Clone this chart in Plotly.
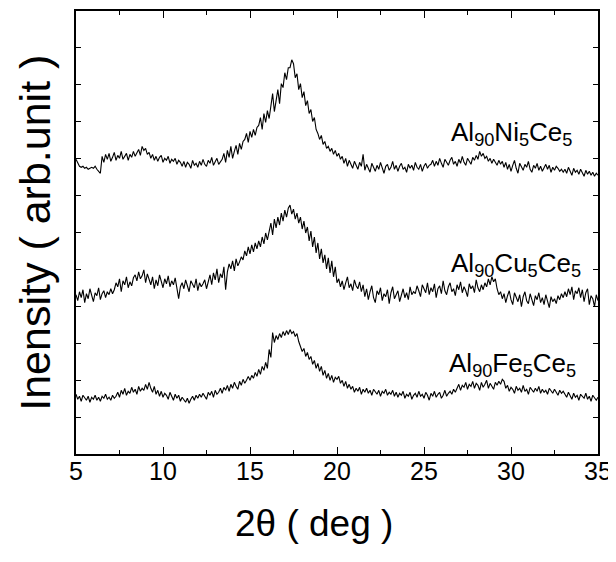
import plotly.graph_objects as go

# XRD scan grid: 2-theta from 5 to 35 deg, step 0.1 deg (301 points)
scan_start = 5.0
scan_step = 0.1
n_points = 301

# Intensities (arb. units)
ni5_counts = [
    296, 292, 289, 288, 289, 287, 288, 286, 287, 288, 287, 289, 286, 284,
    282,
    299, 293, 301, 296, 302, 294, 298, 303, 295, 300, 297, 304, 296, 299, 302, 295, 301, 298, 304, 299, 302, 306, 300,
    309, 305, 307, 301,
    303, 297, 301, 295, 299, 294, 298, 300, 293, 297, 295, 299, 292, 296, 294, 297, 291, 295, 293,
    289, 294, 288, 293, 291, 287, 295, 290, 292, 288, 294, 290, 296, 291, 289, 295, 292, 298, 290, 293, 297, 291, 294,
    296, 302, 293, 305, 298, 309, 297, 304, 310, 301, 312, 306, 314,
    316, 322, 313, 324, 318, 326, 320, 328,
    330, 338, 326, 342, 333, 345, 337,
    348, 362, 344, 358, 366, 352,
    372, 368, 383, 376, 388,
    388, 396, 392,
    378, 382, 366, 372,
    358, 364, 350, 355, 342,
    346, 334, 338, 326, 322,
    316, 320, 311, 314, 307,
    309, 304, 307, 301, 305, 299,
    302, 296, 299, 292, 297, 289, 295, 291, 287, 294, 290, 286, 293, 289, 301,
    285, 291, 287, 283, 292, 288, 284, 290, 286, 293,
    287, 282, 289, 291, 285, 288, 294, 286, 290, 284,
    289, 292, 286, 288, 283, 291, 287, 290, 285, 293,
    288, 286, 291, 284, 289, 292, 287, 290,
    291, 295, 289, 294, 290, 297, 292, 288, 296, 293,
    290, 295, 298, 291, 294, 289, 296, 292, 299, 293,
    290, 297, 294, 291, 298, 295, 300, 296,
    304, 299, 302, 297,
    299, 294, 297, 292, 296, 293, 290, 295, 291, 294,
    288, 293, 286, 291, 284, 290, 295, 287, 282, 292,
    289, 285, 291, 288, 294, 286, 283, 290, 287, 292,
    285, 289, 284, 288, 291, 286, 290, 283, 288, 285,
    289, 287, 284, 286, 283,
    286, 282, 288, 284, 280, 287, 283, 285, 281, 286,
    282, 279, 285, 281, 284, 280, 283, 279, 282, 280,
]

cu5_counts = [
    160, 154, 163, 157, 165, 152, 161, 156, 166, 158,
    153, 162, 159, 167, 155, 161, 164, 157, 163, 160, 166, 161,
    165, 172, 168, 176, 163, 174, 170, 178, 167, 173, 169, 177,
    180, 174, 183, 176, 179, 185, 172, 181, 176,
    170, 178, 166, 175, 169, 180, 173, 167, 176, 171, 179, 168, 174, 170, 177, 165,
    156, 168,
    172, 166, 175, 169, 163, 174, 170, 167, 176, 164, 172, 168, 171, 175, 166,
    173, 180, 170, 182, 175, 186, 172, 181, 177, 188,
    165,
    183, 191, 186, 194, 184, 196, 189, 193, 198,
    195, 204, 199, 208, 201, 210, 203, 212, 206,
    214, 208, 218, 211, 222, 215,
    224, 232, 220, 236, 227, 238, 230,
    242, 234, 245, 238, 247,
    250,
    241, 246, 236, 242,
    232, 238, 226, 234, 222,
    228, 214, 224, 208, 218,
    202, 212, 196, 206, 192,
    200, 186, 197, 182, 194,
    178, 188, 172,
    176, 168, 174, 165, 172, 178, 167, 171, 164, 175, 169, 166, 173, 163, 170,
    158, 166, 155, 163, 169, 157, 152, 164, 160, 167,
    154, 161, 158, 165, 151, 162, 168, 156, 160, 164,
    153, 159, 166, 157, 162, 155, 168, 160, 163,
    161, 169, 164, 158, 170, 165, 162, 172, 160, 167,
    163, 171, 157, 166, 169, 161, 174, 164, 160, 168,
    172, 163, 166, 159, 170, 165, 173, 162, 168, 164,
    158, 171, 166, 169, 162, 175, 167, 163, 170, 165,
    172, 168, 176, 170,
    178, 173, 176,
    166, 160, 163, 156, 161, 152, 159, 164, 155, 150,
    162, 157, 153, 160, 148, 158, 163, 154, 151, 161,
    156, 149, 159, 155, 162, 152, 157, 150, 160, 154,
    147, 158, 153, 156, 151, 159, 155, 161, 157,
    163, 158, 166, 160, 168, 155, 164, 161, 167, 157,
    165, 153, 162, 166, 150, 159, 156, 148, 160, 154,
]

fe5_counts = [
    60, 55, 58, 53, 59, 56, 54, 58, 52, 57, 55, 59, 54, 57, 53, 58, 56, 60, 55, 57, 54, 59, 56,
    58, 62, 57, 64, 60, 66, 59, 63, 61, 67, 62, 65, 60, 68, 63, 66, 64,
    70, 65, 72,
    66, 62, 68, 60, 64, 58, 63, 57, 61, 59, 55, 62, 58, 54, 60, 56, 59, 53, 57, 55, 52,
    56, 51,
    55, 58, 54, 59, 56, 60, 57, 61, 58, 55, 62, 59, 63, 57, 64, 60, 62, 66,
    61, 67, 64, 69, 63, 70, 66, 72, 68, 65, 73, 69, 75, 71, 74, 78,
    74, 79, 76, 82, 78, 85, 80, 88, 84, 92,
    86, 105, 97,
    122,
    112, 119, 115, 121, 117, 123, 119, 124, 120, 125, 121, 123,
    118, 121, 113,
    108, 103, 106, 98, 102, 95,
    98, 90, 94, 86, 91,
    83, 88, 79, 84, 76, 81, 74, 79, 72, 77, 75,
    78, 71, 74, 68, 73, 66, 70,
    65, 68, 62, 66, 63, 67, 60, 65, 62, 66, 61, 64, 59, 65, 62, 60, 64, 58, 63, 61, 65, 59, 62, 60, 64, 58,
    62, 57, 61, 59, 63, 56, 60, 58, 62, 55,
    59, 61, 57, 63, 58, 60, 56, 62, 59, 54,
    61, 58, 63, 57, 60, 62, 56, 59, 64, 58,
    61, 63, 60, 65, 62,
    66, 70, 64, 69, 67, 72, 65, 70, 68, 73,
    66, 71, 69, 64, 72, 67, 70, 74, 66, 71,
    68, 65, 72, 69, 73, 70, 75,
    73, 66, 69, 63, 67, 65, 61, 68, 64, 66,
    62, 69, 63, 65, 60, 67, 64, 62, 66, 63,
    68, 61, 65, 62, 64, 60, 66, 63, 61, 65,
    62, 59, 64, 61, 63,
    60, 57, 62, 58, 55, 61, 57, 59, 54, 60,
    58, 56, 61, 55, 58, 53, 59, 56, 54, 57,
]

series_labels = ["Al<sub>90</sub>Ni<sub>5</sub>Ce<sub>5</sub>",
                 "Al<sub>90</sub>Cu<sub>5</sub>Ce<sub>5</sub>",
                 "Al<sub>90</sub>Fe<sub>5</sub>Ce<sub>5</sub>"]
label_x = [26.45, 26.45, 26.35]
label_y = [322, 190, 90]

x_ticks = [5, 10, 15, 20, 25, 30, 35]
x_tick_labels = ["5", "10", "15", "20", "25", "30", "35"]
x_title = "2θ ( deg )"
y_title = "Inensity ( arb.unit )"

for name, arr in [("ni", ni5_counts), ("cu", cu5_counts), ("fe", fe5_counts)]:
    assert len(arr) == n_points, f"{name}: {len(arr)}"

FONT = "Liberation Sans, Arial, Helvetica, sans-serif"

fig = go.Figure()
for arr in (ni5_counts, cu5_counts, fe5_counts):
    fig.add_trace(go.Scatter(
        y=arr, x0=scan_start, dx=scan_step, mode="lines",
        line=dict(color="black", width=1.1), showlegend=False, hoverinfo="skip"))

for txt, lx, ly in zip(series_labels, label_x, label_y):
    fig.add_annotation(x=lx, y=ly, text=txt, showarrow=False,
                       xanchor="left", yanchor="middle",
                       font=dict(family=FONT, size=26, color="black"))

# axis titles
fig.add_annotation(x=18.68, xref="x", y=-0.157, yref="paper", text=x_title,
                   showarrow=False, xanchor="center", yanchor="middle",
                   font=dict(family=FONT, size=37, color="black"))
fig.add_annotation(x=-0.08, xref="paper", y=0.5, yref="paper", text=y_title,
                   showarrow=False, xanchor="center", yanchor="middle", textangle=-90,
                   font=dict(family=FONT, size=43, color="black"))

# the page body adds an 8px offset, so the figure is 8px smaller than the window
fig.update_layout(
    width=608, height=554,
    margin=dict(l=68, r=18, t=1, b=108),
    paper_bgcolor="white", plot_bgcolor="white",
    font=dict(family=FONT, color="black"),
)
fig.update_xaxes(
    range=[5, 35], tickvals=x_ticks, ticktext=x_tick_labels,
    ticks="inside", ticklen=7, tickwidth=1.2, tickcolor="black",
    minor=dict(dtick=2.5, tick0=5, ticks="inside", ticklen=4, tickwidth=1.2, tickcolor="black"),
    showline=True, linecolor="black", linewidth=2, mirror="ticks",
    showgrid=False, zeroline=False, ticklabelstandoff=-6,
    tickfont=dict(family=FONT, size=25, color="black"),
)
fig.update_yaxes(
    range=[0, 445], tick0=0, dtick=445 / 12, showticklabels=False,
    ticks="inside", ticklen=5, tickwidth=1.2, tickcolor="black",
    showline=True, linecolor="black", linewidth=2, mirror="ticks",
    showgrid=False, zeroline=False,
)

fig.write_html("out.html")
